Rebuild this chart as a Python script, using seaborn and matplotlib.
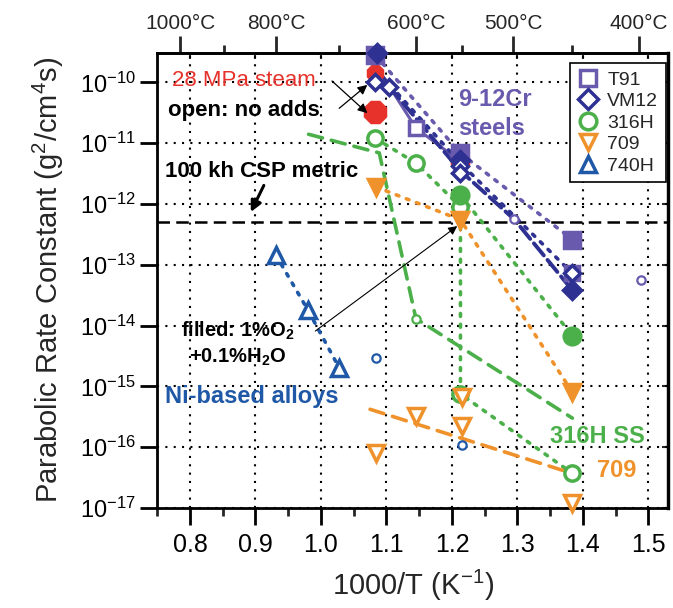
import numpy as np
import pandas as pd
import matplotlib
matplotlib.use('Agg')
import matplotlib.pyplot as plt
from matplotlib.ticker import MultipleLocator, FixedLocator, NullLocator, LogLocator
from matplotlib.lines import Line2D
import seaborn as sns

sns.set_style('ticks')
plt.rcParams['font.family'] = ['Liberation Sans', 'DejaVu Sans']
plt.rcParams['mathtext.fontset'] = 'custom'
plt.rcParams['mathtext.rm'] = 'Liberation Sans'
plt.rcParams['mathtext.bf'] = 'Liberation Sans:bold'
plt.rcParams['mathtext.it'] = 'Liberation Sans:italic'

# colours
c_t91 = '#6a5aad'
c_vm12 = '#2e3192'
c_316 = '#4cb04a'
c_709 = '#f0922b'
c_740 = '#1f58a6'
c_steam = '#e6322b'

# ---- data: x = 1000/T (1/K), y = parabolic rate constant (g^2/cm^4 s)
# T91
t91_filled_x = [1.083, 1.213, 1.384]
t91_filled_y = [2.8e-10, 6.8e-12, 2.6e-13]
t91_open_x = [1.145, 1.384]
t91_open_y = [1.77e-11, 7.2e-14]
t91_solid_x = [1.09, 1.145, 1.213]
t91_solid_y = [1.5e-10, 1.77e-11, 5.0e-12]
# VM12
vm12_filled_x = [1.086, 1.213, 1.384]
vm12_filled_y = [3.0e-10, 5.2e-12, 3.8e-14]
vm12_open_x = [1.083, 1.104, 1.213, 1.213, 1.384]
vm12_open_y = [1.0e-10, 8.5e-11, 4.2e-12, 3.2e-12, 7.2e-14]
vm12_dot_x = [1.095, 1.213, 1.384]
vm12_dot_y = [1.2e-10, 4.7e-12, 7.2e-14]
vm12_dash_x = [1.104, 1.213, 1.295, 1.384]
vm12_dash_y = [8.5e-11, 3.5e-12, 5.6e-13, 3.8e-14]
# 28 MPa steam
steam_x = [1.083, 1.083, 1.213]
steam_y = [1.4e-10, 3.3e-11, 5.0e-12]
# 316H
h316_filled_x = [1.213, 1.384]
h316_filled_y = [1.4e-12, 6.8e-15]
h316_open_x = [1.083, 1.145, 1.213, 1.213, 1.384]
h316_open_y = [1.2e-11, 4.7e-12, 9.0e-13, 7.5e-16, 3.7e-17]
h316_dash_x = [0.981, 1.089, 1.145, 1.384]
h316_dash_y = [1.4e-11, 6.9e-12, 1.3e-14, 3.0e-16]
# 709
a709_filled_x = [1.084, 1.213, 1.384]
a709_filled_y = [1.9e-12, 5.5e-13, 8.0e-16]
a709_open_x = [1.084, 1.145, 1.216, 1.216, 1.384]
a709_open_y = [7.9e-17, 3.2e-16, 6.8e-16, 2.2e-16, 1.2e-17]
a709_dash_x = [1.075, 1.384]
a709_dash_y = [4.2e-16, 3.7e-17]
# 740H
h740_x = [0.931, 0.980, 1.028]
h740_y = [1.45e-13, 1.8e-14, 2.0e-15]
# small open circles
small_blue_x = [1.084, 1.216]
small_blue_y = [2.9e-15, 1.07e-16]
small_purple_x = [1.295, 1.489]
small_purple_y = [5.6e-13, 5.6e-14]
small_green_x = [1.145]
small_green_y = [1.3e-14]

csp_metric = 5e-13

top_ticks_c = [1000, 800, 600, 500, 400]
top_minor_c = [900, 700, 550, 450]

fig = plt.figure(figsize=(6.73, 6.08), dpi=100)
ax = fig.add_axes([0.2337, 0.1645, 0.7589, 0.7488])
ax.set_yscale('log')
ax.set_xlim(0.75, 1.53)
ax.set_ylim(1e-17, 3.07e-10)

dot = (0, (0.8, 2.2))


def draw_line(xs, ys, color, ls, lw, z=3):
    sns.lineplot(x=xs, y=ys, ax=ax, color=color, linestyle=ls, linewidth=lw,
                 estimator=None, sort=False, dash_capstyle='round', zorder=z)


def draw_marks(xs, ys, color, marker, size, filled, mew=2.5, z=5):
    sns.lineplot(x=xs, y=ys, ax=ax, color=color, linestyle='none', marker=marker,
                 markersize=size, markerfacecolor=color if filled else 'white',
                 markeredgecolor=color, markeredgewidth=mew, estimator=None,
                 sort=False, zorder=z, clip_on=False)


# CSP line
ax.axhline(csp_metric, color='black', linestyle=(0, (5, 2.5)), linewidth=1.8, zorder=2)

# lines
draw_line(h316_dash_x, h316_dash_y, c_316, (0, (4, 2.5)), 2.6)
draw_line(h316_open_x, h316_open_y, c_316, dot, 2.6)
draw_line(h316_filled_x, h316_filled_y, c_316, dot, 2.6)
draw_line(a709_filled_x, a709_filled_y, c_709, dot, 2.6)
draw_line(a709_dash_x, a709_dash_y, c_709, (0, (4, 2.5)), 2.6)
draw_line(h740_x, h740_y, c_740, dot, 2.6)
draw_line(t91_filled_x, t91_filled_y, c_t91, dot, 2.6)
draw_line(t91_solid_x, t91_solid_y, c_t91, '-', 2.2)
draw_line(vm12_dot_x, vm12_dot_y, c_vm12, dot, 2.6)
draw_line(vm12_dash_x, vm12_dash_y, c_vm12, (0, (4, 1.5)), 2.8)

# markers
draw_marks(steam_x[:1], steam_y[:1], c_steam, '8', 11, True, z=4)
draw_marks(steam_x[1:2], steam_y[1:2], c_steam, '8', 16, True, z=4)
draw_marks(steam_x[2:], steam_y[2:], c_steam, '8', 12, True, z=4)
draw_marks(h316_open_x, h316_open_y, c_316, 'o', 11, False)
draw_marks(h316_filled_x, h316_filled_y, c_316, 'o', 12, True)
draw_marks(a709_open_x, a709_open_y, c_709, 'v', 11, False)
draw_marks(a709_filled_x, a709_filled_y, c_709, 'v', 12, True)
draw_marks(h740_x, h740_y, c_740, '^', 11, False)
draw_marks(t91_open_x, t91_open_y, c_t91, 's', 10, False)
draw_marks(t91_filled_x, t91_filled_y, c_t91, 's', 11, True)
draw_marks(vm12_filled_x, vm12_filled_y, c_vm12, 'D', 9, True)
draw_marks(vm12_open_x, vm12_open_y, c_vm12, 'D', 8.5, False)
draw_marks(small_blue_x, small_blue_y, c_740, 'o', 6, False, mew=1.6)
draw_marks(small_purple_x, small_purple_y, c_t91, 'o', 6, False, mew=1.6)
draw_marks(small_green_x, small_green_y, c_316, 'o', 6, False, mew=1.6)

# axes styling
for s in ax.spines.values():
    s.set_linewidth(2)
    s.set_color('black')
ax.xaxis.set_major_locator(MultipleLocator(0.1))
ax.xaxis.set_minor_locator(MultipleLocator(0.05))
ax.yaxis.set_major_locator(LogLocator(base=10, numticks=20))
ax.yaxis.set_minor_locator(NullLocator())
ax.tick_params(axis='both', which='major', direction='out', length=12, width=2,
               labelsize=17, colors='black')
ax.tick_params(axis='x', which='minor', direction='out', length=6, width=2)
ax.tick_params(axis='x', labelsize=18, pad=6)
ax.set_xticks([0.8, 0.9, 1.0, 1.1, 1.2, 1.3, 1.4, 1.5])
ax.set_xticklabels(['0.8', '0.9', '1.0', '1.1', '1.2', '1.3', '1.4', '1.5'])
ax.set_xlim(0.75, 1.53)
ax.set_axisbelow(True)
ax.grid(True, which='major', color='black', linestyle=(0, (1, 3)), linewidth=1.5)

ax.set_xlabel('1000/T (K$^{-1}$)', fontsize=21, labelpad=8)
ax.set_ylabel('Parabolic Rate Constant (g$^2$/cm$^4$s)', fontsize=21, labelpad=10)

# inner ticks on top and right
inner_top = ax.secondary_xaxis('top')
inner_top.patch.set_visible(False)
inner_top.xaxis.set_major_locator(MultipleLocator(0.1))
inner_top.tick_params(direction='in', length=4, width=1.5, labeltop=False)
inner_right = ax.secondary_yaxis('right')
inner_right.patch.set_visible(False)
inner_right.yaxis.set_major_locator(LogLocator(base=10, numticks=20))
inner_right.yaxis.set_minor_locator(NullLocator())
inner_right.tick_params(direction='in', length=4, width=1.5, labelright=False)
inner_right.spines['right'].set_linewidth(2.5)

# Celsius axis on top
def inv_to_c(x):
    x = np.asarray(x, dtype=float)
    with np.errstate(divide='ignore'):
        return 1000.0 / x - 273.15


def c_to_inv(c):
    c = np.asarray(c, dtype=float)
    with np.errstate(divide='ignore'):
        return 1000.0 / (c + 273.15)


top = ax.secondary_xaxis('top', functions=(inv_to_c, c_to_inv))
top.patch.set_visible(False)
top.xaxis.set_major_locator(FixedLocator(top_ticks_c))
top.xaxis.set_minor_locator(FixedLocator(top_minor_c))
top.set_xticklabels([f'{t}°C' for t in top_ticks_c])
top.tick_params(which='major', direction='out', length=12, width=2, labelsize=15, pad=2)
top.tick_params(which='minor', direction='out', length=6, width=2)
top.spines['top'].set_linewidth(2)

# annotations
ax.text(0.028, 0.94, '28 MPa steam', transform=ax.transAxes, color=c_steam,
        fontsize=16, ha='left', va='center')
ax.text(0.021, 0.874, 'open: no adds', transform=ax.transAxes, color='black',
        fontsize=16, fontweight='bold', ha='left', va='center')
ax.annotate('', xy=(1.074, 2.9e-11), xycoords='data', xytext=(0.338, 0.942),
            textcoords='axes fraction',
            arrowprops=dict(arrowstyle='-|>', color='black', lw=0.9, mutation_scale=14),
            zorder=6)
ax.annotate('', xy=(1.074, 9.7e-11), xycoords='data', xytext=(0.352, 0.874),
            textcoords='axes fraction',
            arrowprops=dict(arrowstyle='-|>', color='black', lw=0.9, mutation_scale=14),
            zorder=6)
ax.text(0.015, 0.739, '100 kh CSP metric', transform=ax.transAxes, color='black',
        fontsize=16, fontweight='bold', ha='left', va='center')
ax.annotate('', xy=(0.891, 6.7e-13), xycoords='data', xytext=(0.211, 0.714),
            textcoords='axes fraction',
            arrowprops=dict(arrowstyle='-|>', color='black', lw=2.2, mutation_scale=16))
ax.text(0.589, 0.865, '9-12Cr\nsteels', transform=ax.transAxes, color=c_t91,
        fontsize=17, fontweight='bold', ha='left', va='center', linespacing=1.35)
ax.text(0.158, 0.36, 'filled: 1%O$_\\mathbf{2}$\n+0.1%H$_\\mathbf{2}$O', transform=ax.transAxes,
        color='black', fontsize=14.5, fontweight='bold', ha='center', va='center',
        linespacing=1.3)
ax.annotate('', xy=(1.2115, 4.6e-13), xycoords='data', xytext=(0.305, 0.385),
            textcoords='axes fraction',
            arrowprops=dict(arrowstyle='-|>', color='black', lw=0.8, mutation_scale=13),
            zorder=6)
ax.text(0.015, 0.244, 'Ni-based alloys', transform=ax.transAxes, color=c_740,
        fontsize=17, fontweight='bold', ha='left', va='center')
ax.text(0.769, 0.156, '316H SS', transform=ax.transAxes, color=c_316,
        fontsize=17, fontweight='bold', ha='left', va='center')
ax.text(0.861, 0.083, '709', transform=ax.transAxes, color=c_709,
        fontsize=17, fontweight='bold', ha='left', va='center')

# legend
handles = [
    Line2D([], [], linestyle='none', marker='s', markersize=11, markerfacecolor='white',
           markeredgecolor=c_t91, markeredgewidth=2.5, label='T91'),
    Line2D([], [], linestyle='none', marker='D', markersize=10, markerfacecolor='white',
           markeredgecolor=c_vm12, markeredgewidth=2.5, label='VM12'),
    Line2D([], [], linestyle='none', marker='o', markersize=12, markerfacecolor='white',
           markeredgecolor=c_316, markeredgewidth=2.5, label='316H'),
    Line2D([], [], linestyle='none', marker='v', markersize=12, markerfacecolor='white',
           markeredgecolor=c_709, markeredgewidth=2.5, label='709'),
    Line2D([], [], linestyle='none', marker='^', markersize=12, markerfacecolor='white',
           markeredgecolor=c_740, markeredgewidth=2.5, label='740H'),
]
leg = ax.legend(handles=handles, loc='upper right', bbox_to_anchor=(0.996, 0.977),
                fontsize=14, frameon=True, fancybox=False, framealpha=1,
                edgecolor='black', handlelength=1.0, handletextpad=0.5,
                labelspacing=0.2, borderpad=0.4, borderaxespad=0)
leg.get_frame().set_linewidth(1.2)
leg.set_zorder(10)

fig.savefig('out.png', dpi=100)
